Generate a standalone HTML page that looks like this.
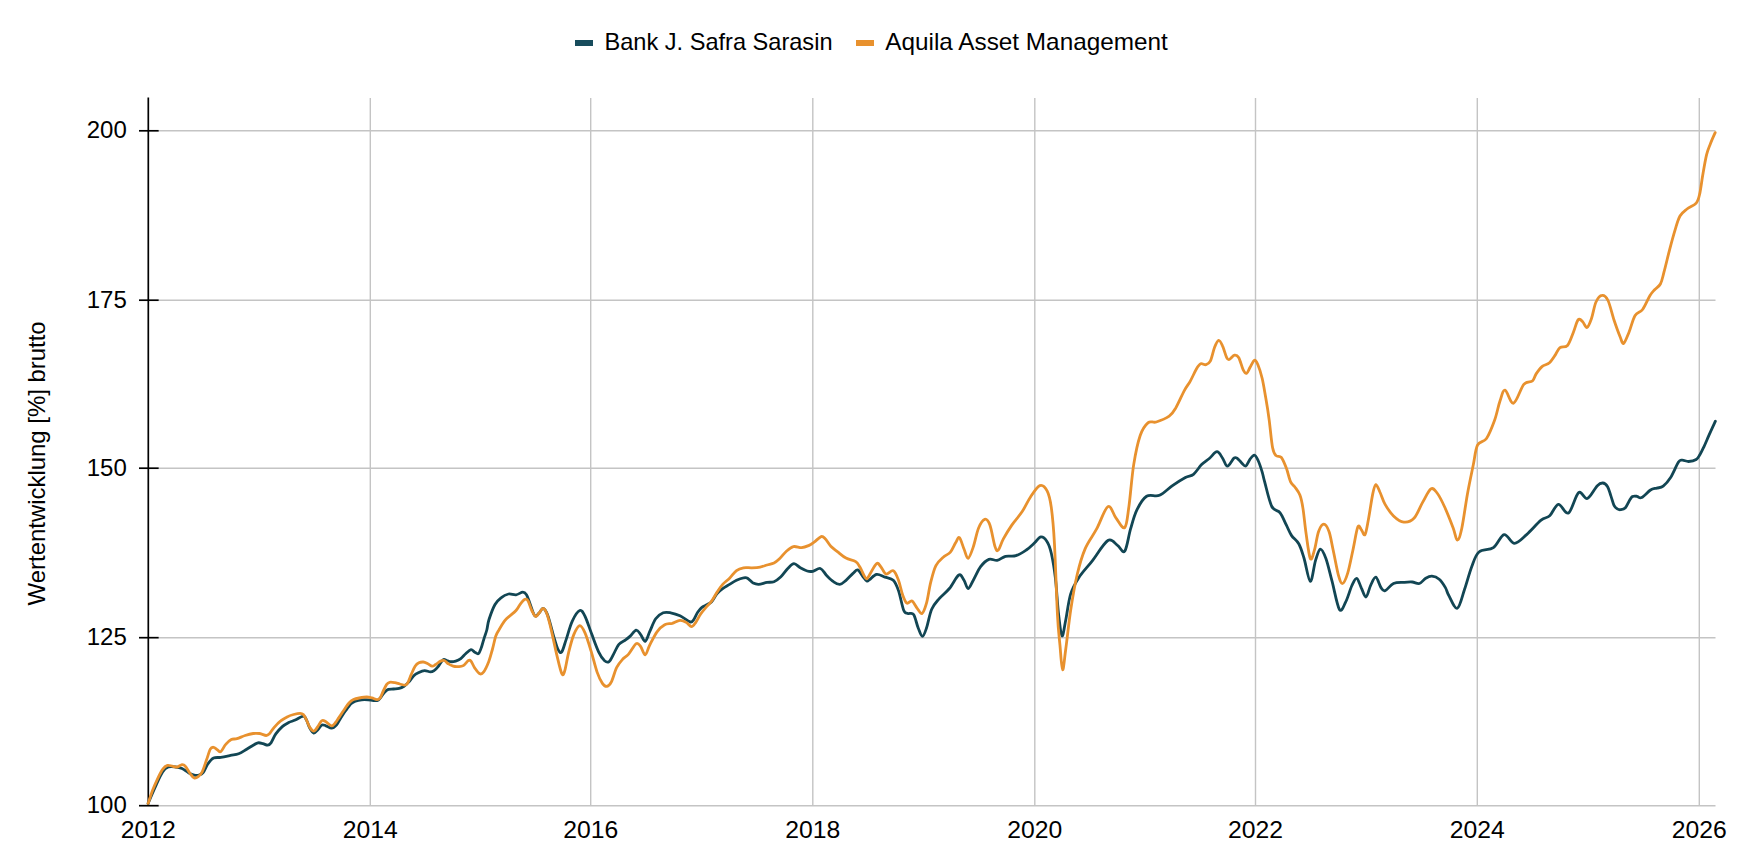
<!DOCTYPE html>
<html><head><meta charset="utf-8"><style>
html,body{margin:0;padding:0;background:#fff;width:1746px;height:866px;overflow:hidden}
svg{display:block}
.t{font-family:"Liberation Sans",sans-serif;font-size:24px;fill:#000}
.g{stroke:#c4c4c4;stroke-width:1.4}
.a{stroke:#000;stroke-width:1.7}
.lg{font-family:"Liberation Sans",sans-serif;font-size:24px;fill:#000}
</style></head><body>
<svg width="1746" height="866" viewBox="0 0 1746 866">
<rect x="575" y="40" width="18" height="6" fill="#174c5c"/>
<text x="604.5" y="49.7" class="lg" textLength="228" lengthAdjust="spacingAndGlyphs">Bank J. Safra Sarasin</text>
<rect x="856" y="40" width="18" height="6" fill="#e8912e"/>
<text x="885.3" y="49.7" class="lg" textLength="282.5" lengthAdjust="spacingAndGlyphs">Aquila Asset Management</text>
<line x1="158.7" x2="1715.5" y1="805.7" y2="805.7" class="g"/>
<line x1="158.7" x2="1715.5" y1="637.7" y2="637.7" class="g"/>
<line x1="158.7" x2="1715.5" y1="468.2" y2="468.2" class="g"/>
<line x1="158.7" x2="1715.5" y1="300.2" y2="300.2" class="g"/>
<line x1="158.7" x2="1715.5" y1="130.8" y2="130.8" class="g"/>
<line x1="370.3" x2="370.3" y1="98" y2="805.5" class="g"/>
<line x1="590.7" x2="590.7" y1="98" y2="805.5" class="g"/>
<line x1="812.8" x2="812.8" y1="98" y2="805.5" class="g"/>
<line x1="1034.8" x2="1034.8" y1="98" y2="805.5" class="g"/>
<line x1="1255.5" x2="1255.5" y1="98" y2="805.5" class="g"/>
<line x1="1477.3" x2="1477.3" y1="98" y2="805.5" class="g"/>
<line x1="1699.3" x2="1699.3" y1="98" y2="805.5" class="g"/>
<line x1="148.3" x2="148.3" y1="97.5" y2="806" class="a"/>
<line x1="139" x2="158.7" y1="805.7" y2="805.7" class="a"/>
<line x1="139" x2="158.7" y1="637.7" y2="637.7" class="a"/>
<line x1="139" x2="158.7" y1="468.2" y2="468.2" class="a"/>
<line x1="139" x2="158.7" y1="300.2" y2="300.2" class="a"/>
<line x1="139" x2="158.7" y1="130.8" y2="130.8" class="a"/>
<text x="126.8" y="813.3" text-anchor="end" class="t">100</text>
<text x="126.8" y="645.3" text-anchor="end" class="t">125</text>
<text x="126.8" y="475.8" text-anchor="end" class="t">150</text>
<text x="126.8" y="307.8" text-anchor="end" class="t">175</text>
<text x="126.8" y="138.4" text-anchor="end" class="t">200</text>
<text x="148.3" y="838" text-anchor="middle" class="t" textLength="55" lengthAdjust="spacingAndGlyphs">2012</text>
<text x="370.3" y="838" text-anchor="middle" class="t" textLength="55" lengthAdjust="spacingAndGlyphs">2014</text>
<text x="590.7" y="838" text-anchor="middle" class="t" textLength="55" lengthAdjust="spacingAndGlyphs">2016</text>
<text x="812.8" y="838" text-anchor="middle" class="t" textLength="55" lengthAdjust="spacingAndGlyphs">2018</text>
<text x="1034.8" y="838" text-anchor="middle" class="t" textLength="55" lengthAdjust="spacingAndGlyphs">2020</text>
<text x="1255.5" y="838" text-anchor="middle" class="t" textLength="55" lengthAdjust="spacingAndGlyphs">2022</text>
<text x="1477.3" y="838" text-anchor="middle" class="t" textLength="55" lengthAdjust="spacingAndGlyphs">2024</text>
<text x="1699.3" y="838" text-anchor="middle" class="t" textLength="55" lengthAdjust="spacingAndGlyphs">2026</text>
<text transform="translate(45.2,463.4) rotate(-90)" text-anchor="middle" class="t" textLength="284" lengthAdjust="spacingAndGlyphs">Wertentwicklung [%] brutto</text>
<path d="M148.1,803.4 C149.4,800.3 153.8,790.0 156.2,784.8 C158.6,779.5 160.6,774.9 162.6,771.9 C164.6,768.9 166.1,767.8 168.3,767.0 C170.5,766.2 173.3,766.7 175.6,767.0 C177.9,767.3 179.8,767.6 182.0,768.6 C184.2,769.6 186.5,771.6 188.5,772.7 C190.5,773.8 192.4,774.7 194.2,775.1 C195.9,775.5 197.5,775.5 199.0,775.1 C200.5,774.7 201.6,774.6 203.1,772.7 C204.6,770.8 206.2,766.2 207.9,763.8 C209.7,761.4 211.4,759.2 213.6,758.1 C215.8,757.0 218.0,757.8 220.8,757.3 C223.6,756.8 227.5,756.0 230.5,755.4 C233.5,754.8 235.9,754.8 238.6,753.8 C241.3,752.8 244.3,750.6 246.7,749.2 C249.1,747.8 251.3,746.3 253.2,745.2 C255.1,744.1 256.4,743.1 258.0,742.8 C259.6,742.5 261.3,743.2 262.9,743.6 C264.5,744.0 266.3,745.3 267.7,745.2 C269.1,745.1 269.6,744.7 271.0,742.8 C272.4,740.9 273.9,736.6 275.8,733.9 C277.7,731.2 280.2,728.5 282.3,726.6 C284.4,724.7 286.6,723.6 288.7,722.5 C290.8,721.4 292.8,721.2 295.2,720.1 C297.6,719.0 301.4,716.1 303.3,716.1 C305.2,716.1 305.4,718.1 306.5,720.1 C307.6,722.1 308.6,726.0 309.8,728.2 C311.0,730.4 312.5,732.8 313.8,733.1 C315.1,733.4 316.5,731.1 317.8,729.8 C319.1,728.4 320.5,725.7 321.9,725.0 C323.2,724.3 324.3,725.3 325.9,725.8 C327.5,726.3 329.9,728.3 331.6,728.2 C333.4,728.1 335.0,726.5 336.4,725.0 C337.8,723.5 338.7,721.2 340.2,718.9 C341.7,716.6 343.4,713.8 345.2,711.3 C347.0,708.8 349.3,705.4 351.0,703.7 C352.7,702.0 353.6,701.8 355.4,701.1 C357.2,700.5 359.6,700.0 361.7,699.8 C363.8,699.6 366.2,699.7 368.1,699.8 C370.0,699.9 371.6,700.4 373.2,700.5 C374.8,700.6 376.3,701.0 377.6,700.5 C378.9,700.0 379.6,698.7 380.8,697.3 C382.0,695.9 383.3,693.5 384.6,692.2 C385.9,690.9 386.9,689.9 388.4,689.4 C389.9,688.9 391.7,689.2 393.5,689.0 C395.3,688.8 397.5,688.8 399.2,688.4 C400.9,688.0 402.1,687.5 403.7,686.5 C405.3,685.5 407.0,683.9 408.7,682.1 C410.4,680.3 412.1,677.3 413.8,675.7 C415.5,674.1 417.1,673.4 418.9,672.5 C420.7,671.6 422.7,670.7 424.6,670.6 C426.5,670.5 428.7,671.9 430.3,671.9 C431.9,671.9 432.8,671.5 434.1,670.6 C435.4,669.8 436.4,668.6 437.9,666.8 C439.4,665.0 441.5,660.8 443.0,659.8 C444.5,658.8 445.5,660.2 446.8,660.5 C448.1,660.8 449.1,661.6 450.6,661.7 C452.1,661.8 454.0,661.6 455.7,661.1 C457.4,660.6 459.1,659.9 460.8,658.6 C462.5,657.3 464.2,655.0 465.9,653.5 C467.6,652.0 469.5,649.9 471.0,649.7 C472.5,649.5 473.5,651.6 474.8,652.2 C476.1,652.8 477.5,654.5 478.6,653.5 C479.8,652.5 480.8,649.1 481.7,646.5 C482.6,643.9 483.4,640.4 484.3,637.6 C485.2,634.9 486.0,633.0 486.8,630.0 C487.6,627.0 487.6,623.8 489.0,619.5 C490.4,615.2 493.0,608.1 495.0,604.5 C497.0,600.9 498.8,599.5 501.0,597.8 C503.2,596.0 506.0,594.5 508.5,594.0 C511.0,593.5 513.6,595.1 516.0,594.8 C518.4,594.5 521.0,592.2 522.8,592.2 C524.5,592.2 525.2,592.8 526.5,594.8 C527.8,596.8 528.9,601.0 530.3,604.5 C531.7,608.0 533.3,614.4 534.8,615.8 C536.3,617.2 537.9,614.0 539.3,612.8 C540.7,611.5 541.7,607.9 543.1,608.3 C544.5,608.7 545.9,610.4 547.6,615.0 C549.4,619.6 551.9,630.3 553.6,636.1 C555.4,641.9 556.7,647.0 558.1,649.6 C559.5,652.2 560.4,653.5 561.8,651.8 C563.2,650.0 564.5,644.2 566.3,639.1 C568.0,634.0 570.0,625.9 572.3,621.1 C574.5,616.3 577.7,611.3 579.8,610.5 C581.9,609.7 583.1,612.5 585.1,616.5 C587.1,620.5 589.6,628.7 591.9,634.6 C594.1,640.5 596.5,647.4 598.6,651.8 C600.7,656.2 602.9,659.2 604.6,660.8 C606.4,662.4 607.6,662.7 609.1,661.6 C610.6,660.5 612.0,657.0 613.6,654.1 C615.2,651.2 616.9,646.7 618.9,644.3 C620.9,641.9 623.7,641.2 625.6,639.8 C627.5,638.4 628.4,637.7 630.2,636.1 C632.0,634.5 634.5,630.4 636.2,630.1 C638.0,629.9 639.2,632.7 640.7,634.6 C642.2,636.5 643.7,641.8 645.2,641.3 C646.7,640.8 648.0,635.4 649.7,631.6 C651.5,627.9 653.5,621.9 655.7,618.8 C658.0,615.7 660.7,613.8 663.2,612.8 C665.7,611.8 667.9,612.3 670.7,612.8 C673.5,613.3 676.8,614.3 680.0,615.8 C683.2,617.3 687.8,621.2 690.1,621.9 C692.4,622.6 692.3,621.4 693.6,619.8 C694.9,618.2 696.3,614.3 697.7,612.2 C699.1,610.1 700.3,608.6 701.9,607.3 C703.5,606.0 705.8,605.4 707.4,604.5 C709.0,603.6 710.0,603.6 711.6,601.8 C713.2,600.0 715.2,595.7 717.1,593.5 C719.0,591.3 720.6,590.1 722.7,588.6 C724.8,587.1 727.3,585.8 729.6,584.4 C731.9,583.0 734.2,581.4 736.5,580.3 C738.8,579.2 741.6,578.2 743.5,577.9 C745.4,577.5 746.0,577.3 747.6,578.2 C749.2,579.1 751.4,582.1 753.2,583.1 C755.1,584.1 756.4,584.5 758.7,584.4 C761.0,584.3 764.5,582.8 767.0,582.4 C769.5,582.0 771.7,582.6 774.0,581.7 C776.3,580.8 778.6,579.0 780.9,576.8 C783.2,574.6 785.6,570.7 787.8,568.5 C790.0,566.3 791.9,563.8 794.0,563.7 C796.1,563.6 798.1,566.6 800.3,567.8 C802.5,569.0 805.1,570.4 807.2,571.0 C809.3,571.6 810.6,571.7 812.8,571.3 C815.0,570.9 818.1,567.8 820.4,568.5 C822.7,569.2 824.4,573.2 826.6,575.4 C828.8,577.6 831.3,580.2 833.5,581.7 C835.7,583.2 837.7,584.6 839.8,584.4 C841.9,584.2 843.8,582.1 846.0,580.3 C848.2,578.5 851.0,575.1 853.0,573.4 C855.0,571.7 856.2,569.4 857.8,569.9 C859.4,570.4 861.1,574.2 862.6,576.1 C864.1,578.0 865.6,580.4 866.8,581.0 C868.0,581.6 868.0,580.7 869.6,579.6 C871.2,578.5 874.0,574.8 876.6,574.4 C879.2,574.0 882.2,576.1 885.0,577.1 C887.8,578.1 891.0,578.0 893.3,580.2 C895.5,582.5 896.8,585.6 898.5,590.6 C900.2,595.6 902.2,606.5 903.7,610.3 C905.2,614.1 906.1,612.8 907.8,613.5 C909.4,614.2 911.9,612.1 913.6,614.5 C915.3,616.9 916.7,624.4 918.2,628.0 C919.7,631.6 921.0,636.3 922.4,636.3 C923.8,636.3 925.0,632.5 926.5,628.0 C928.0,623.5 929.6,614.1 931.7,609.3 C933.8,604.4 936.0,602.4 939.0,598.9 C942.0,595.4 946.1,592.5 949.4,588.5 C952.7,584.5 956.4,576.4 958.8,575.0 C961.2,573.6 962.5,578.0 964.0,580.2 C965.5,582.5 966.6,588.5 968.1,588.5 C969.6,588.5 971.2,583.8 973.3,580.2 C975.4,576.6 978.0,570.2 980.6,566.7 C983.2,563.2 986.1,560.5 988.9,559.4 C991.7,558.3 994.4,560.9 997.2,560.4 C1000.0,559.9 1002.4,557.1 1005.5,556.3 C1008.6,555.5 1012.4,556.8 1015.9,555.7 C1019.4,554.7 1023.2,552.1 1026.3,550.0 C1029.4,547.9 1032.2,545.0 1034.6,542.8 C1037.0,540.6 1038.8,537.1 1040.9,536.9 C1043.0,536.7 1045.4,539.0 1047.1,541.7 C1048.8,544.4 1049.9,547.1 1051.3,553.2 C1052.7,559.3 1054.2,568.1 1055.4,578.1 C1056.6,588.1 1057.4,603.9 1058.5,613.5 C1059.6,623.1 1060.8,634.9 1062.0,635.9 C1063.2,636.9 1064.3,626.7 1065.8,619.7 C1067.2,612.7 1068.5,600.9 1070.7,593.9 C1072.9,586.9 1075.3,583.1 1078.8,577.7 C1082.3,572.3 1086.8,567.8 1091.7,561.6 C1096.6,555.4 1103.6,543.2 1107.9,540.5 C1112.2,537.8 1114.7,543.6 1117.5,545.4 C1120.3,547.2 1122.5,553.9 1124.7,551.2 C1126.9,548.5 1128.5,536.1 1130.5,529.2 C1132.5,522.3 1134.2,515.4 1136.9,509.9 C1139.6,504.4 1142.8,498.7 1146.6,496.3 C1150.4,493.9 1155.2,497.1 1159.5,495.3 C1163.8,493.5 1168.2,488.6 1172.5,485.6 C1176.8,482.6 1181.9,479.4 1185.4,477.5 C1188.9,475.6 1190.8,476.4 1193.5,474.3 C1196.2,472.2 1198.9,467.3 1201.6,464.6 C1204.3,461.9 1207.0,460.4 1209.6,458.2 C1212.2,456.0 1214.8,451.7 1217.0,451.7 C1219.2,451.7 1220.9,455.8 1222.6,458.2 C1224.3,460.6 1225.5,466.2 1227.4,466.2 C1229.3,466.2 1232.3,459.5 1233.9,458.2 C1235.5,456.9 1235.8,457.5 1237.1,458.2 C1238.3,458.9 1240.0,461.3 1241.4,462.6 C1242.9,463.9 1244.3,466.6 1245.8,466.0 C1247.2,465.4 1248.7,460.9 1250.1,459.1 C1251.5,457.3 1253.1,455.0 1254.4,455.1 C1255.7,455.2 1256.6,457.2 1257.9,460.0 C1259.2,462.8 1261.1,468.5 1262.2,472.1 C1263.3,475.7 1263.0,475.9 1264.6,481.6 C1266.2,487.3 1269.2,501.3 1271.8,506.5 C1274.4,511.7 1277.7,509.7 1280.1,512.8 C1282.5,515.9 1284.5,521.4 1286.4,525.2 C1288.3,529.0 1289.5,532.5 1291.6,535.6 C1293.7,538.7 1296.8,540.2 1298.9,544.0 C1301.0,547.8 1302.2,552.3 1304.1,558.5 C1306.0,564.7 1308.4,581.0 1310.3,581.4 C1312.2,581.8 1313.8,566.0 1315.5,560.6 C1317.2,555.2 1318.6,549.5 1320.3,549.1 C1322.0,548.8 1323.9,553.1 1325.9,558.5 C1327.9,563.9 1329.8,572.9 1332.1,581.4 C1334.3,589.9 1337.2,605.9 1339.4,609.4 C1341.7,612.9 1343.5,606.2 1345.6,602.2 C1347.7,598.2 1350.1,589.5 1351.9,585.5 C1353.8,581.5 1355.2,577.9 1356.7,578.3 C1358.2,578.6 1359.7,584.5 1361.2,587.6 C1362.8,590.7 1364.4,597.4 1366.0,597.0 C1367.6,596.6 1369.0,588.8 1370.6,585.5 C1372.2,582.2 1374.1,576.9 1375.8,577.2 C1377.5,577.6 1379.5,585.4 1381.0,587.6 C1382.5,589.9 1383.0,591.4 1385.1,590.7 C1387.2,590.0 1390.4,584.9 1393.5,583.5 C1396.6,582.1 1400.7,582.6 1403.8,582.4 C1406.9,582.1 1409.6,581.8 1412.2,582.0 C1414.8,582.2 1417.2,584.1 1419.4,583.5 C1421.7,582.9 1423.6,579.5 1425.7,578.3 C1427.8,577.1 1429.7,576.0 1431.9,576.2 C1434.2,576.4 1437.0,577.4 1439.2,579.3 C1441.5,581.2 1443.8,584.9 1445.4,587.6 C1447.0,590.3 1446.7,591.8 1448.7,595.3 C1450.7,598.8 1454.7,609.3 1457.3,608.3 C1459.9,607.3 1462.1,596.5 1464.5,589.5 C1466.9,582.5 1469.4,572.6 1471.8,566.4 C1474.2,560.1 1475.4,555.1 1479.0,552.0 C1482.6,548.9 1489.2,550.5 1493.4,547.6 C1497.6,544.7 1500.6,535.3 1504.1,534.6 C1507.6,533.9 1510.8,543.3 1514.5,543.3 C1518.2,543.3 1522.2,538.5 1526.6,534.6 C1531.0,530.8 1537.2,523.3 1541.1,520.2 C1544.9,517.1 1546.8,518.4 1549.7,515.8 C1552.6,513.1 1555.3,504.8 1558.4,504.3 C1561.5,503.8 1565.1,514.9 1568.5,513.0 C1571.9,511.1 1575.5,495.1 1578.6,492.7 C1581.7,490.3 1584.2,499.6 1587.3,498.5 C1590.4,497.4 1594.5,488.5 1597.1,485.9 C1599.7,483.3 1601.0,482.9 1602.8,483.0 C1604.5,483.1 1606.3,484.6 1607.6,486.7 C1608.9,488.8 1609.7,492.5 1610.8,495.6 C1611.9,498.7 1612.9,503.1 1614.0,505.3 C1615.1,507.5 1616.2,508.2 1617.3,508.9 C1618.4,509.6 1619.2,509.9 1620.5,509.7 C1621.8,509.5 1623.8,509.4 1625.4,507.7 C1627.0,506.0 1628.8,501.5 1630.0,499.6 C1631.2,497.7 1631.5,496.9 1632.7,496.4 C1633.9,495.8 1635.5,496.1 1637.0,496.3 C1638.5,496.5 1639.3,498.7 1641.6,497.6 C1643.8,496.6 1648.0,491.6 1650.5,490.0 C1653.0,488.4 1654.7,488.7 1656.8,488.1 C1658.9,487.5 1660.9,488.0 1663.2,486.2 C1665.5,484.4 1668.2,481.3 1670.8,477.3 C1673.3,473.3 1676.6,465.0 1678.5,462.1 C1680.4,459.2 1680.6,460.3 1682.3,460.2 C1684.0,460.1 1686.3,461.6 1688.6,461.5 C1690.9,461.4 1694.3,460.7 1696.2,459.5 C1698.1,458.3 1698.7,456.6 1700.0,454.5 C1701.3,452.4 1702.4,450.0 1703.9,446.8 C1705.4,443.6 1707.0,439.7 1708.9,435.4 C1710.8,431.1 1714.3,423.6 1715.4,421.2" fill="none" stroke="#124654" stroke-width="2.8" stroke-linejoin="round" stroke-linecap="round"/>
<path d="M148.1,803.4 C148.9,801.1 151.3,793.8 152.9,789.6 C154.5,785.4 156.2,781.7 157.8,778.3 C159.4,774.9 161.0,771.5 162.6,769.4 C164.2,767.2 165.9,765.9 167.5,765.4 C169.1,764.9 170.7,765.9 172.3,766.2 C173.9,766.5 175.6,767.3 177.2,767.0 C178.8,766.7 180.7,764.7 182.0,764.6 C183.3,764.5 184.0,764.7 185.3,766.2 C186.7,767.7 188.6,771.5 190.1,773.5 C191.6,775.5 192.8,777.5 194.2,778.0 C195.5,778.5 196.9,777.7 198.2,776.7 C199.5,775.7 200.8,774.6 202.2,771.9 C203.5,769.2 205.0,764.3 206.3,760.5 C207.7,756.7 209.1,751.4 210.3,749.2 C211.5,747.0 212.4,747.2 213.6,747.3 C214.8,747.4 216.4,749.3 217.6,750.0 C218.8,750.7 219.5,752.5 220.8,751.6 C222.2,750.7 223.9,746.4 225.7,744.4 C227.4,742.4 229.4,740.5 231.3,739.5 C233.2,738.5 234.7,739.4 237.0,738.7 C239.3,738.0 242.4,736.4 245.1,735.5 C247.8,734.6 250.8,733.8 253.2,733.5 C255.6,733.2 257.5,733.2 259.6,733.5 C261.8,733.8 264.5,735.4 266.1,735.5 C267.7,735.6 268.0,735.2 269.3,733.9 C270.6,732.5 272.3,729.6 274.2,727.4 C276.1,725.2 278.5,722.6 280.7,720.9 C282.9,719.1 285.0,718.0 287.1,716.9 C289.2,715.8 291.4,715.1 293.6,714.5 C295.8,713.9 298.5,713.3 300.1,713.3 C301.7,713.3 302.2,713.4 303.3,714.5 C304.4,715.6 305.4,718.0 306.5,720.1 C307.6,722.2 308.6,725.6 309.8,727.4 C311.0,729.2 312.5,731.2 313.8,731.1 C315.1,731.0 316.5,728.4 317.8,726.6 C319.1,724.9 320.5,721.4 321.9,720.6 C323.2,719.8 324.3,720.8 325.9,721.7 C327.5,722.6 330.0,725.7 331.6,725.8 C333.2,725.9 334.4,723.9 335.6,722.5 C336.8,721.1 337.5,719.7 338.9,717.6 C340.3,715.5 342.3,712.4 344.0,710.0 C345.7,707.6 347.4,704.7 349.0,703.0 C350.6,701.3 351.8,700.4 353.5,699.6 C355.2,698.8 357.0,698.4 359.2,698.0 C361.4,697.6 364.7,697.0 366.8,697.0 C368.9,697.0 370.2,697.5 371.9,697.9 C373.6,698.3 375.6,699.6 377.0,699.6 C378.4,699.6 379.1,699.3 380.2,697.9 C381.2,696.5 382.2,693.2 383.3,691.0 C384.4,688.8 385.4,686.1 386.5,684.6 C387.6,683.1 388.3,682.6 389.7,682.3 C391.1,682.0 393.1,682.4 394.8,682.7 C396.5,683.0 398.1,683.6 399.8,684.0 C401.5,684.4 403.6,685.3 404.9,685.2 C406.2,685.1 406.4,685.1 407.5,683.3 C408.6,681.5 410.0,677.2 411.3,674.4 C412.6,671.5 413.8,668.1 415.1,666.2 C416.4,664.3 417.5,663.5 418.9,662.8 C420.3,662.1 421.8,661.9 423.3,662.0 C424.8,662.1 426.3,663.0 427.8,663.7 C429.3,664.4 430.8,666.1 432.2,666.2 C433.6,666.3 434.6,665.1 436.0,664.3 C437.4,663.4 439.1,661.7 440.5,661.1 C441.9,660.5 443.0,660.1 444.3,660.5 C445.6,660.9 446.6,662.8 448.1,663.7 C449.6,664.7 451.5,665.7 453.2,666.2 C454.9,666.7 456.6,666.7 458.3,666.6 C460.0,666.5 461.6,666.6 463.3,665.6 C465.0,664.6 467.1,661.2 468.4,660.5 C469.7,659.8 469.9,659.8 471.0,661.1 C472.1,662.4 473.3,666.0 474.8,668.1 C476.3,670.2 478.3,673.2 479.8,673.8 C481.3,674.4 482.2,673.9 483.7,671.9 C485.2,669.9 487.2,665.5 488.7,661.7 C490.2,657.9 491.3,653.2 492.5,649.0 C493.7,644.8 494.6,639.5 495.7,636.3 C496.8,633.1 497.3,632.7 498.9,630.0 C500.4,627.3 503.1,622.7 505.0,620.3 C506.9,617.9 508.2,617.4 510.0,615.8 C511.8,614.2 514.2,612.5 516.0,610.5 C517.8,608.5 519.0,605.7 520.5,603.8 C522.0,601.9 523.8,599.8 525.0,599.3 C526.2,598.8 526.9,598.9 528.0,600.8 C529.1,602.7 530.5,607.9 531.8,610.5 C533.1,613.1 534.4,616.1 535.6,616.5 C536.9,616.9 538.0,614.2 539.3,612.8 C540.5,611.4 541.9,608.2 543.1,608.3 C544.4,608.4 545.4,609.9 546.8,613.5 C548.2,617.1 549.7,623.3 551.3,630.1 C552.9,636.9 554.9,646.9 556.6,654.1 C558.4,661.4 560.4,670.9 561.8,673.6 C563.2,676.4 563.7,674.1 564.8,670.6 C565.9,667.1 567.1,658.6 568.6,652.6 C570.1,646.6 571.9,639.1 573.8,634.6 C575.7,630.1 577.9,625.9 579.8,625.6 C581.7,625.4 583.2,628.9 585.1,633.1 C587.0,637.4 589.1,644.6 591.1,651.1 C593.1,657.6 595.2,666.7 597.1,672.1 C599.0,677.5 600.8,681.0 602.4,683.4 C604.0,685.8 605.4,686.6 606.9,686.4 C608.4,686.1 609.8,685.0 611.4,681.9 C613.0,678.8 614.7,671.4 616.6,667.6 C618.5,663.8 620.6,661.5 622.6,659.3 C624.6,657.0 626.3,656.7 628.6,654.1 C630.9,651.5 634.2,644.9 636.2,643.6 C638.2,642.4 639.2,644.7 640.7,646.6 C642.2,648.5 643.7,655.0 645.2,654.8 C646.7,654.5 647.7,649.0 649.7,645.1 C651.7,641.2 654.7,635.0 657.2,631.6 C659.7,628.2 662.2,626.2 664.7,624.8 C667.2,623.4 669.7,624.0 672.2,623.3 C674.8,622.5 677.6,620.4 680.0,620.3 C682.4,620.2 684.7,621.5 686.6,622.6 C688.5,623.7 690.0,626.7 691.5,626.7 C693.0,626.7 694.1,624.7 695.6,622.6 C697.1,620.5 698.8,616.8 700.5,614.2 C702.2,611.7 704.1,609.5 706.0,607.3 C707.9,605.1 709.8,603.6 711.6,601.1 C713.5,598.6 715.2,594.9 717.1,592.1 C719.0,589.3 720.6,586.7 722.7,584.4 C724.8,582.1 727.3,580.5 729.6,578.2 C731.9,575.9 734.2,572.3 736.5,570.6 C738.8,568.9 741.0,568.3 743.5,567.8 C746.0,567.3 749.0,567.9 751.8,567.8 C754.6,567.7 757.6,567.6 760.1,567.1 C762.6,566.6 764.7,565.7 767.0,565.0 C769.3,564.3 771.9,564.0 774.0,563.0 C776.1,562.0 777.4,560.8 779.5,558.8 C781.6,556.8 784.1,553.2 786.4,551.2 C788.7,549.2 790.8,547.2 793.4,546.6 C796.0,546.0 799.2,547.9 801.7,547.7 C804.2,547.5 806.5,546.5 808.6,545.6 C810.7,544.7 812.0,543.7 814.1,542.2 C816.2,540.7 819.2,537.2 821.1,536.6 C823.0,536.0 823.6,537.1 825.2,538.7 C826.8,540.3 828.7,544.1 830.8,546.3 C832.9,548.5 835.2,549.9 837.7,551.9 C840.2,553.9 843.0,556.5 846.0,558.1 C849.0,559.7 853.4,560.1 855.7,561.6 C858.0,563.1 858.5,564.8 859.9,567.1 C861.3,569.4 862.9,573.4 864.0,575.4 C865.1,577.4 865.9,579.0 866.8,578.9 C867.7,578.8 868.0,577.2 869.6,574.7 C871.2,572.2 874.7,564.9 876.6,563.6 C878.5,562.3 879.2,565.0 880.8,566.7 C882.4,568.4 883.9,573.3 886.0,574.0 C888.1,574.7 891.2,569.8 893.3,570.8 C895.4,571.8 897.0,576.2 898.5,580.2 C900.0,584.2 901.2,590.9 902.6,594.7 C904.0,598.5 905.2,602.1 906.8,603.1 C908.4,604.1 910.3,600.1 912.0,601.0 C913.7,601.9 915.5,606.2 917.2,608.3 C918.9,610.4 920.5,614.4 922.0,613.5 C923.5,612.6 925.0,608.3 926.5,603.1 C928.0,597.9 929.1,588.5 930.7,582.3 C932.3,576.0 933.8,569.8 935.9,565.6 C938.0,561.4 940.8,559.5 943.2,557.3 C945.6,555.0 948.3,554.5 950.4,552.1 C952.5,549.7 954.1,545.2 955.6,542.8 C957.1,540.4 958.0,536.6 959.4,537.6 C960.8,538.6 962.5,545.5 964.0,549.0 C965.5,552.5 966.6,558.8 968.1,558.4 C969.6,558.0 971.6,551.9 973.3,546.9 C975.0,541.9 976.6,532.8 978.5,528.2 C980.4,523.6 982.8,519.8 984.7,519.3 C986.6,518.8 988.2,520.5 989.9,525.1 C991.6,529.7 993.7,542.8 995.1,546.9 C996.5,551.0 996.9,551.4 998.3,550.0 C999.7,548.6 1001.2,542.8 1003.5,538.6 C1005.8,534.5 1008.7,529.6 1011.8,525.1 C1014.9,520.6 1019.1,516.3 1022.2,511.6 C1025.3,506.9 1027.6,501.3 1030.5,497.0 C1033.4,492.7 1037.0,486.6 1039.8,485.6 C1042.6,484.6 1045.2,487.2 1047.1,490.8 C1049.0,494.4 1050.1,498.7 1051.3,507.4 C1052.5,516.1 1053.4,524.8 1054.4,542.8 C1055.4,560.8 1056.6,598.4 1057.5,615.5 C1058.4,632.6 1059.2,636.6 1060.0,645.6 C1060.8,654.6 1061.6,669.3 1062.6,669.8 C1063.6,670.3 1064.4,658.8 1065.8,648.8 C1067.2,638.8 1068.8,622.4 1070.7,610.0 C1072.6,597.6 1074.8,584.7 1077.2,574.5 C1079.6,564.3 1082.0,556.1 1085.2,548.6 C1088.4,541.1 1092.7,536.2 1096.5,529.2 C1100.3,522.2 1104.7,508.5 1107.9,506.6 C1111.1,504.7 1113.1,514.4 1115.9,517.9 C1118.7,521.4 1122.5,529.5 1124.7,527.6 C1126.9,525.7 1127.4,517.1 1128.9,506.6 C1130.4,496.1 1131.8,476.5 1133.7,464.6 C1135.6,452.8 1137.8,442.5 1140.2,435.5 C1142.6,428.5 1145.5,424.9 1148.2,422.6 C1150.9,420.4 1152.8,423.1 1156.3,422.0 C1159.8,420.9 1166.0,418.5 1169.2,416.2 C1172.4,413.9 1173.2,412.4 1175.7,408.1 C1178.2,403.8 1181.9,395.1 1184.3,390.6 C1186.7,386.1 1188.3,384.7 1190.3,381.1 C1192.3,377.5 1194.7,371.9 1196.4,369.0 C1198.1,366.1 1199.1,364.5 1200.7,363.8 C1202.3,363.1 1204.3,365.1 1205.9,364.7 C1207.5,364.3 1208.8,364.1 1210.3,361.2 C1211.8,358.3 1213.2,350.8 1214.6,347.3 C1216.0,343.8 1217.3,340.7 1218.6,340.4 C1219.9,340.1 1221.1,342.7 1222.4,345.6 C1223.8,348.5 1225.6,355.4 1226.7,357.7 C1227.8,360.0 1228.0,359.9 1229.3,359.5 C1230.6,359.1 1232.9,355.4 1234.5,355.1 C1236.1,354.8 1237.3,355.2 1238.8,357.7 C1240.2,360.2 1241.9,367.3 1243.2,369.9 C1244.5,372.5 1245.4,373.7 1246.6,373.3 C1247.8,372.9 1248.8,369.5 1250.1,367.3 C1251.4,365.1 1253.1,360.7 1254.4,360.3 C1255.7,359.9 1256.6,361.7 1257.9,364.7 C1259.2,367.7 1260.9,373.0 1262.2,378.5 C1263.5,384.0 1264.5,390.7 1265.7,397.6 C1266.9,404.5 1268.1,411.7 1269.2,420.1 C1270.3,428.5 1271.4,441.9 1272.6,447.8 C1273.8,453.7 1274.6,454.0 1276.1,455.6 C1277.5,457.2 1279.6,455.2 1281.3,457.4 C1283.0,459.6 1285.0,464.6 1286.5,468.6 C1288.0,472.6 1289.1,478.6 1290.5,481.6 C1291.9,484.6 1293.1,484.6 1294.7,486.8 C1296.3,489.1 1298.5,491.5 1299.9,495.1 C1301.3,498.7 1302.0,502.2 1303.0,508.6 C1304.0,515.0 1304.9,525.3 1306.1,533.6 C1307.3,541.9 1308.9,555.7 1310.3,558.5 C1311.7,561.3 1313.0,554.7 1314.4,550.2 C1315.8,545.7 1317.0,535.8 1318.6,531.5 C1320.2,527.2 1322.1,524.2 1323.8,524.2 C1325.5,524.2 1327.4,527.2 1329.0,531.5 C1330.6,535.8 1331.6,542.9 1333.2,550.2 C1334.8,557.5 1336.9,569.6 1338.4,575.1 C1340.0,580.6 1341.0,583.8 1342.5,583.5 C1344.0,583.2 1346.0,578.6 1347.7,573.1 C1349.4,567.6 1351.2,557.8 1352.9,550.2 C1354.6,542.6 1356.3,530.8 1357.7,527.3 C1359.1,523.8 1360.0,528.2 1361.2,529.4 C1362.4,530.6 1363.8,536.3 1365.0,534.6 C1366.2,532.9 1367.2,525.8 1368.5,519.0 C1369.8,512.2 1371.5,499.8 1372.7,494.1 C1373.9,488.4 1374.6,485.1 1375.8,484.7 C1377.0,484.3 1378.4,488.7 1379.9,492.0 C1381.5,495.3 1382.8,500.4 1385.1,504.4 C1387.4,508.4 1390.4,512.9 1393.5,515.9 C1396.6,518.9 1400.3,521.8 1403.8,522.1 C1407.2,522.5 1411.1,521.3 1414.2,518.0 C1417.3,514.7 1419.8,507.2 1422.6,502.4 C1425.4,497.5 1428.5,490.5 1430.9,488.9 C1433.3,487.3 1434.8,490.1 1437.1,493.0 C1439.3,495.9 1441.8,500.8 1444.4,506.5 C1447.1,512.2 1450.8,521.8 1453.0,527.4 C1455.2,533.0 1455.8,539.8 1457.3,540.0 C1458.8,540.2 1460.0,536.4 1461.7,528.8 C1463.4,521.2 1465.5,504.8 1467.4,494.2 C1469.3,483.6 1471.5,473.5 1473.2,465.3 C1474.9,457.1 1475.3,449.6 1477.5,445.1 C1479.7,440.6 1483.7,442.6 1486.5,438.5 C1489.3,434.4 1492.2,426.8 1494.5,420.5 C1496.8,414.2 1498.2,406.1 1500.0,401.0 C1501.8,395.9 1502.7,389.8 1505.0,390.2 C1507.3,390.6 1510.5,404.2 1513.6,403.2 C1516.7,402.2 1520.7,388.1 1523.8,384.4 C1526.9,380.7 1530.4,382.7 1532.4,381.0 C1534.4,379.3 1534.4,376.5 1536.0,374.1 C1537.6,371.7 1539.8,368.5 1542.0,366.6 C1544.2,364.7 1547.2,364.7 1549.5,362.7 C1551.8,360.7 1553.8,357.1 1555.5,354.6 C1557.2,352.1 1558.0,349.1 1560.0,347.6 C1562.0,346.1 1565.2,348.1 1567.5,345.5 C1569.8,342.9 1571.8,336.2 1573.5,332.0 C1575.2,327.8 1576.5,321.8 1578.0,320.0 C1579.5,318.2 1581.0,320.2 1582.5,321.5 C1584.0,322.8 1585.5,328.0 1587.0,327.5 C1588.5,327.0 1590.0,322.8 1591.5,318.5 C1593.0,314.2 1594.2,305.9 1596.0,302.0 C1597.8,298.1 1600.0,295.6 1602.0,295.4 C1604.0,295.1 1606.0,296.4 1608.0,300.5 C1610.0,304.6 1612.0,314.0 1614.0,320.0 C1616.0,326.0 1618.4,332.6 1620.0,336.5 C1621.6,340.4 1622.1,344.1 1623.6,343.4 C1625.1,342.6 1627.2,336.6 1629.1,332.0 C1631.0,327.4 1632.8,319.2 1635.1,315.5 C1637.3,311.8 1640.1,312.8 1642.6,309.5 C1645.1,306.2 1648.0,298.8 1650.0,295.5 C1652.0,292.2 1652.9,291.6 1654.6,289.7 C1656.3,287.8 1658.9,286.9 1660.4,284.0 C1662.0,281.1 1662.4,278.2 1663.9,272.4 C1665.5,266.6 1667.8,256.6 1669.7,249.3 C1671.6,242.0 1673.7,234.4 1675.4,228.8 C1677.1,223.2 1678.1,219.3 1680.0,216.0 C1681.9,212.7 1684.3,211.2 1687.0,209.0 C1689.7,206.8 1694.1,205.6 1696.2,203.1 C1698.3,200.6 1698.6,198.9 1699.7,193.9 C1700.8,188.9 1701.9,179.7 1703.1,173.1 C1704.2,166.5 1705.4,159.5 1706.6,154.6 C1707.8,149.7 1709.1,147.2 1710.5,143.5 C1711.9,139.8 1714.4,134.4 1715.2,132.6" fill="none" stroke="#e8912e" stroke-width="2.8" stroke-linejoin="round" stroke-linecap="round"/>
</svg>
</body></html>
